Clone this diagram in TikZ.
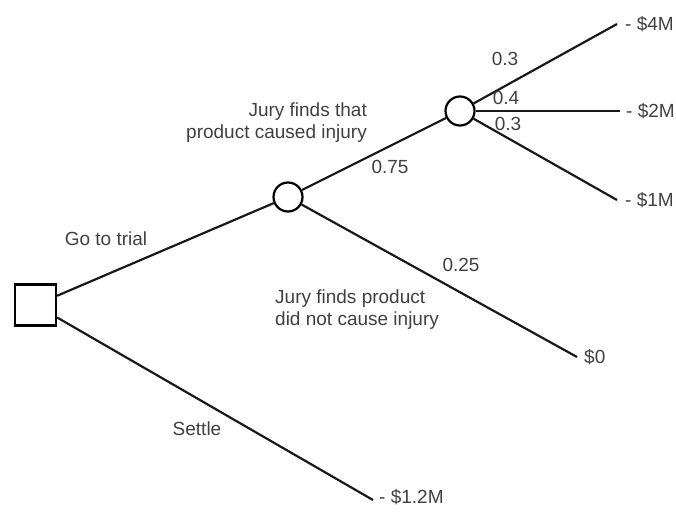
\documentclass[tikz,border=0pt]{standalone}
\usepackage{fontspec}
\setmainfont{Liberation Sans}
\usetikzlibrary{positioning}

\tikzset{
  decision/.style={draw, line width=2.2pt, minimum size=41pt, inner sep=0pt},
  chance/.style={draw, circle, line width=2.2pt, minimum size=29pt, inner sep=0pt},
  branch/.style={line width=2.2pt, black!90},
  lbl/.style={text=black!75, inner sep=0pt, font=\fontsize{19}{22}\selectfont},
  payoff/.style={lbl, anchor=west},
}

\begin{document}
\begin{tikzpicture}[x=1pt, y=-1pt]
        \useasboundingbox (0,0) rectangle (676,514);
        % nodes of the tree
        \node[decision] (dec) at (35.5,305) {};
        \node[chance] (trial) at (288,197) {};
        \node[chance] (harm) at (460,111) {};
        % ends of the branches
        \coordinate (e4) at (617,24);
        \coordinate (e2) at (620,111);
        \coordinate (e1) at (617,200);
        \coordinate (e0) at (577,357);
        \coordinate (es) at (373,500);
        \node[payoff, right=8pt of e4] (four) {- \$4M};
        \node[payoff, right=6pt of e2] (two) {- \$2M};
        \node[payoff, right=8pt of e1] (one) {- \$1M};
        \node[payoff, right=7pt of e0] (zero) {\$0};
        \node[payoff, right=6pt of es, yshift=3pt] (settle) {- \$1.2M};
        % branches
        \draw[branch] (dec) -- (trial);
        \draw[branch] (dec) -- (es);
        \draw[branch] (trial) -- (harm);
        \draw[branch] (trial) -- (e0);
        \draw[branch] (harm) -- (e4);
        \draw[branch] (harm) -- (e2);
        \draw[branch] (harm) -- (e1);
        % labels
        \node[lbl] (go) at (106,239) {Go to trial};
        \node[lbl] (st) at (197,429) {Settle};
        \node[lbl, align=right, anchor=east] (yes) at (367,123) {Jury finds that\\product caused injury};
        \node[lbl, align=left, anchor=west] (no) at (275,310) {Jury finds product\\did not cause injury};
        \node[lbl] (p75) at (390,167) {0.75};
        \node[lbl] (p25) at (461,265) {0.25};
        \node[lbl] (p3a) at (505,59) {0.3};
        \node[lbl] (p4) at (506,98) {0.4};
        \node[lbl] (p3b) at (508,124) {0.3};
\end{tikzpicture}
\end{document}
